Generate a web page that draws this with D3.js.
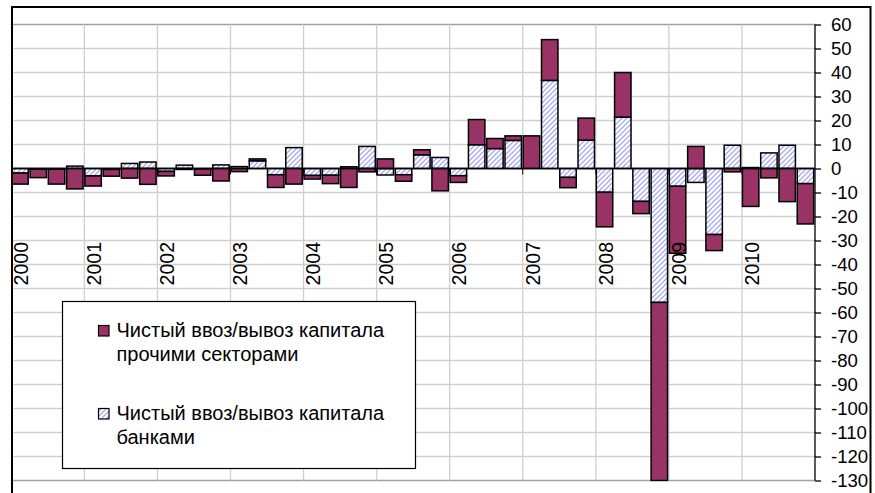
<!DOCTYPE html>
<html>
<head>
<meta charset="utf-8">
<script src="https://cdn.jsdelivr.net/npm/d3@7"></script>
<style>
  html, body { margin: 0; padding: 0; background: #fff; }
  svg { display: block; }
  text { font-family: "Liberation Sans", Arial, sans-serif; fill: #000; }
</style>
</head>
<body>
<svg id="chart" width="875" height="493"></svg>
<script>
// ---- data ----
const years = ["2000","2001","2002","2003","2004","2005","2006","2007","2008","2009","2010"];
const quarters = d3.range(44); // 2000 Q1 .. 2010 Q4
const banks = [
  -1.9, -0.3, -0.3, 1.0,
  -3.1, -0.4, 2.1, 2.7,
  -1.2, 1.4, -0.2, 1.5,
  0.8, 3.2, -2.6, 8.7,
  -2.9, -2.8, 0.7, 9.2,
  -2.7, -2.6, 5.7, 4.6,
  -3.0, 9.9, 8.3, 11.7,
  0, 36.7, -3.7, 11.8,
  -9.9, 21.4, -13.7, -55.8,
  -7.4, -5.8, -27.5, 9.7,
  0.4, 6.5, 9.7, -6.3
];
const others = [
  -4.6, -3.5, -6.2, -8.5,
  -4.2, -2.8, -4.0, -6.6,
  -1.9, -0.4, -2.6, -5.2,
  -1.3, 0.8, -5.3, -6.5,
  -1.5, -3.5, -7.9, -1.4,
  4.0, -2.7, 2.1, -9.3,
  -2.8, 10.5, 4.2, 1.9,
  13.6, 17.0, -4.3, 9.2,
  -14.4, 18.6, -5.1, -74.2,
  -27.9, 9.2, -6.7, -1.4,
  -15.8, -3.9, -13.8, -16.8
];
const yTicks = d3.range(-130, 61, 10);
const legendLabels = [
  ["Чистый ввоз/вывоз капитала", "прочими секторами"],
  ["Чистый ввоз/вывоз капитала", "банками"]
];

// ---- setup ----
const svg = d3.select("#chart");
const plotL = 11.3, plotR = 815, plotT = 24.5, plotB = 480.5;

const x = d3.scaleBand().domain(quarters).range([plotL, plotR]).paddingInner(0).paddingOuter(0);
const y = d3.scaleLinear().domain([-130, 60]).range([plotB, plotT]);

const defs = svg.append("defs");
const pat = defs.append("pattern")
  .attr("id", "hatch").attr("patternUnits", "userSpaceOnUse")
  .attr("width", 5).attr("height", 5);
pat.append("rect").attr("width", 5).attr("height", 5).attr("fill", "#ffffff");
pat.append("path")
  .attr("d", "M0,5 L5,0 M-1,1 L1,-1 M4,6 L6,4")
  .attr("stroke", "#a8a8f4").attr("stroke-width", 1.3);

defs.append("clipPath").attr("id", "plotClip")
  .append("rect").attr("x", plotL).attr("y", plotT - 1).attr("width", plotR - plotL).attr("height", plotB - plotT + 2);

// background
svg.append("rect").attr("width", 875).attr("height", 493).attr("fill", "#fff");

// horizontal gridlines
svg.append("g").selectAll("line").data(yTicks).join("line")
  .attr("x1", plotL).attr("x2", plotR)
  .attr("y1", d => y(d)).attr("y2", d => y(d))
  .attr("stroke", d => (d === 60 || d === -130) ? "#a0a0a0" : "#cfcfcf")
  .attr("stroke-width", 1.3);

// vertical gridlines at year boundaries
const yearStarts = years.map((yr, i) => i * 4);
svg.append("g").selectAll("line").data(yearStarts.slice(1)).join("line")
  .attr("x1", d => x(d)).attr("x2", d => x(d))
  .attr("y1", plotT).attr("y2", plotB)
  .attr("stroke", "#cfcfcf").attr("stroke-width", 1.3);

// stacked bars
const table = quarters.map(i => ({ q: i, banks: banks[i], others: others[i] }));
const stack = d3.stack().keys(["banks", "others"]).offset(d3.stackOffsetDiverging);
const series = stack(table);
const fills = { banks: "url(#hatch)", others: "#993366" };

const bw = x.bandwidth() * 0.9;
const gBars = svg.append("g").attr("clip-path", "url(#plotClip)");
series.forEach(s => {
  gBars.append("g").selectAll("rect").data(s).join("rect")
    .attr("x", d => x(d.data.q) + 0.5)
    .attr("width", bw)
    .attr("y", d => y(Math.max(d[0], d[1])))
    .attr("height", d => Math.abs(y(d[0]) - y(d[1])))
    .attr("fill", fills[s.key])
    .attr("stroke", "#000").attr("stroke-width", 1.5);
});

// zero (category) axis line and year tick marks
svg.append("line").attr("x1", plotL).attr("x2", plotR)
  .attr("y1", y(0)).attr("y2", y(0)).attr("stroke", "#000").attr("stroke-width", 1.3);
svg.append("g").selectAll("line").data(yearStarts.slice(1)).join("line")
  .attr("x1", d => x(d)).attr("x2", d => x(d))
  .attr("y1", y(0)).attr("y2", y(0) + 6)
  .attr("stroke", "#000").attr("stroke-width", 1);

// year labels (rotated)
svg.append("g").selectAll("text").data(years).join("text")
  .attr("transform", (d, i) => `translate(${x(i * 4) + x.bandwidth() / 2 + 0.8},242) rotate(-90)`)
  .attr("text-anchor", "end")
  .attr("dy", "0.35em")
  .style("font-size", "19.5px")
  .text(d => d);

// right value axis
const yAxis = d3.axisRight(y).tickValues(yTicks).tickSize(6).tickPadding(10)
  .tickFormat(d => String(d));
const gAxis = svg.append("g").attr("transform", `translate(${plotR},0)`).call(yAxis);
gAxis.select(".domain").attr("stroke", "#000").attr("stroke-width", 1.3)
  .attr("d", `M0,${plotT}V${plotB}`);
gAxis.selectAll(".tick line").attr("stroke", "#000").attr("stroke-width", 1.3);
gAxis.selectAll(".tick text")
  .attr("dy", "0.33em")
  .style("font-size", "18.6px")
  .style("font-family", "'Liberation Sans', Arial, sans-serif")
  .attr("fill", "#000");

// legend
const lg = svg.append("g");
lg.append("rect").attr("x", 62.5).attr("y", 301.5).attr("width", 353).attr("height", 167)
  .attr("fill", "#fff").attr("stroke", "#000").attr("stroke-width", 1.2);
const legendKeys = ["others", "banks"];
const legendTop = [325.5, 408.5];
legendKeys.forEach((k, i) => {
  lg.append("rect").attr("x", 98.5).attr("y", legendTop[i]).attr("width", 10.5).attr("height", 10.5)
    .attr("fill", fills[k]).attr("stroke", "#000").attr("stroke-width", 1.2);
  const t = lg.append("text").attr("x", 116.5).attr("y", legendTop[i] + 11.3)
    .style("font-size", "20px");
  t.append("tspan").attr("x", 116.5).text(legendLabels[i][0]);
  t.append("tspan").attr("x", 116.5).attr("dy", 24.5).text(legendLabels[i][1]);
});

// outer chart border
svg.append("rect").attr("x", 12).attr("y", 7).attr("width", 858.5).attr("height", 520)
  .attr("fill", "none").attr("stroke", "#000").attr("stroke-width", 2);
</script>
</body>
</html>
